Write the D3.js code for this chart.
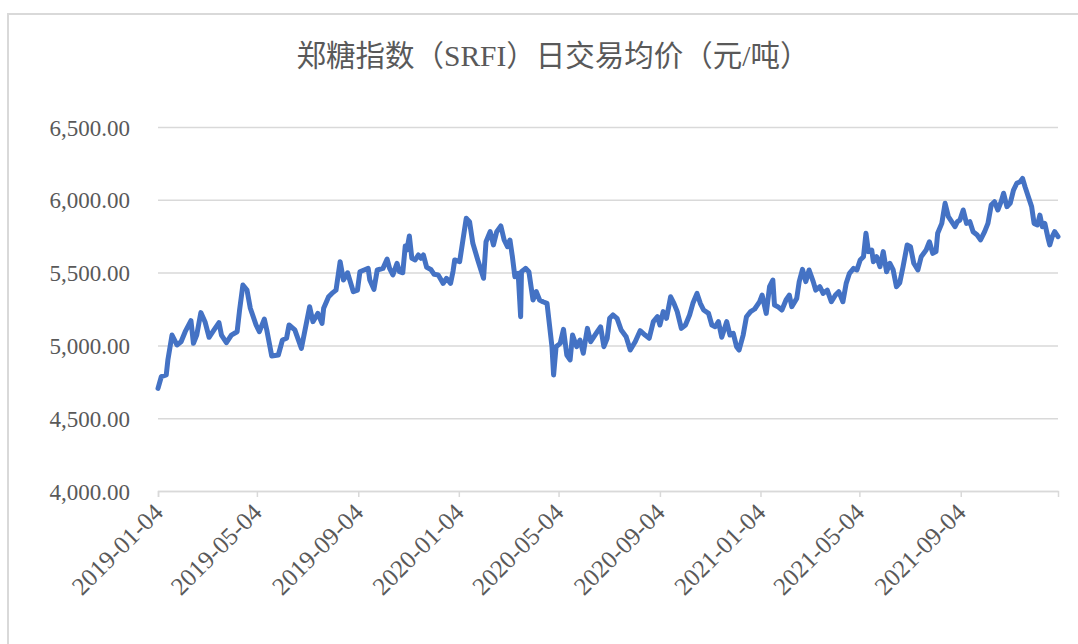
<!DOCTYPE html>
<html>
<head>
<meta charset="utf-8">
<script src="https://cdn.jsdelivr.net/npm/d3@7"></script>
<style>
  body { margin: 0; background: #fff; }
  text { fill: #595959; font-family: "Liberation Serif", "Noto Sans CJK SC", serif; }
</style>
</head>
<body>
<div id="chart"></div>
<script>
// 郑糖指数 daily average price

var dates = [
  "2019-01-04","2019-01-08","2019-01-14","2019-01-16","2019-01-21","2019-01-27","2019-02-01","2019-02-06",
  "2019-02-13","2019-02-16","2019-02-20","2019-02-25","2019-03-02","2019-03-07","2019-03-13","2019-03-19",
  "2019-03-22","2019-03-28","2019-04-03","2019-04-10","2019-04-13","2019-04-17","2019-04-22","2019-04-26",
  "2019-05-03","2019-05-07","2019-05-13","2019-05-16","2019-05-22","2019-05-30","2019-06-04","2019-06-09",
  "2019-06-12","2019-06-19","2019-06-27","2019-07-07","2019-07-11","2019-07-17","2019-07-22","2019-07-24",
  "2019-07-30","2019-08-03","2019-08-08","2019-08-13","2019-08-17","2019-08-22","2019-08-29","2019-09-03",
  "2019-09-06","2019-09-11","2019-09-16","2019-09-18","2019-09-23","2019-09-27","2019-10-04","2019-10-09",
  "2019-10-12","2019-10-16","2019-10-21","2019-10-24","2019-10-28","2019-10-31","2019-11-02","2019-11-05",
  "2019-11-08","2019-11-12","2019-11-16","2019-11-19","2019-11-22","2019-11-26","2019-12-01","2019-12-05",
  "2019-12-10","2019-12-12","2019-12-16","2019-12-20","2019-12-25","2019-12-28","2019-12-30","2020-01-05",
  "2020-01-09","2020-01-13","2020-01-17","2020-01-21","2020-01-27","2020-02-03","2020-02-06","2020-02-11",
  "2020-02-15","2020-02-19","2020-02-24","2020-02-28","2020-03-03","2020-03-06","2020-03-09","2020-03-12",
  "2020-03-16","2020-03-19","2020-03-20","2020-03-25","2020-03-29","2020-04-03","2020-04-07","2020-04-11",
  "2020-04-15","2020-04-20","2020-04-23","2020-04-26","2020-04-28","2020-05-01","2020-05-06","2020-05-10",
  "2020-05-14","2020-05-18","2020-05-21","2020-05-26","2020-05-30","2020-06-03","2020-06-08","2020-06-12",
  "2020-06-16","2020-06-20","2020-06-24","2020-06-28","2020-07-02","2020-07-05","2020-07-09","2020-07-14",
  "2020-07-19","2020-07-25","2020-07-30","2020-08-05","2020-08-11","2020-08-17","2020-08-22","2020-08-27",
  "2020-09-01","2020-09-04","2020-09-08","2020-09-12","2020-09-17","2020-09-21","2020-09-25","2020-09-30",
  "2020-10-05","2020-10-10","2020-10-14","2020-10-19","2020-10-23","2020-10-27","2020-11-02","2020-11-06",
  "2020-11-10","2020-11-14","2020-11-18","2020-11-24","2020-11-28","2020-12-02","2020-12-06","2020-12-09",
  "2020-12-14","2020-12-18","2020-12-23","2020-12-28","2021-01-03","2021-01-06","2021-01-11","2021-01-15",
  "2021-01-19","2021-01-21","2021-01-25","2021-01-30","2021-02-04","2021-02-08","2021-02-11","2021-02-17",
  "2021-02-20","2021-02-24","2021-02-28","2021-03-04","2021-03-09","2021-03-12","2021-03-17","2021-03-21",
  "2021-03-26","2021-03-31","2021-04-05","2021-04-09","2021-04-14","2021-04-18","2021-04-22","2021-04-27",
  "2021-05-01","2021-05-05","2021-05-09","2021-05-12","2021-05-15","2021-05-19","2021-05-21","2021-05-25",
  "2021-05-29","2021-06-02","2021-06-06","2021-06-10","2021-06-14","2021-06-18","2021-06-22","2021-06-26",
  "2021-07-01","2021-07-05","2021-07-09","2021-07-14","2021-07-18","2021-07-24","2021-07-28","2021-08-01",
  "2021-08-05","2021-08-07","2021-08-12","2021-08-16","2021-08-20","2021-08-24","2021-08-28","2021-08-31",
  "2021-09-03","2021-09-07","2021-09-11","2021-09-15","2021-09-19","2021-09-24","2021-09-28","2021-10-03",
  "2021-10-07","2021-10-11","2021-10-15","2021-10-19","2021-10-23","2021-10-26","2021-10-30","2021-11-03",
  "2021-11-07","2021-11-11","2021-11-15","2021-11-18","2021-11-21","2021-11-25","2021-11-29","2021-12-02",
  "2021-12-06","2021-12-09","2021-12-12","2021-12-15","2021-12-19","2021-12-21","2021-12-24","2021-12-27",
  "2021-12-31"
];

var prices = [
  4705,4785,4797,4900,5071,5003,5025,5094,
  5170,5014,5071,5225,5163,5056,5106,5156,
  5071,5019,5071,5094,5243,5415,5380,5255,
  5140,5094,5181,5106,4927,4934,5037,5049,
  5140,5106,4980,5266,5163,5220,5151,5255,
  5334,5357,5380,5575,5449,5499,5369,5380,
  5506,5518,5529,5449,5385,5518,5529,5593,
  5529,5484,5564,5506,5499,5683,5655,5751,
  5598,5587,5621,5598,5621,5536,5522,5488,
  5484,5465,5426,5461,5426,5510,5587,5575,
  5724,5873,5850,5701,5587,5461,5712,5781,
  5690,5781,5820,5724,5678,5724,5609,5472,
  5495,5197,5506,5529,5506,5312,5369,5312,
  5300,5289,5140,4991,4797,4991,5014,5110,
  4934,4900,5071,4991,5037,4946,5117,5025,
  5060,5094,5128,4991,5049,5186,5209,5186,
  5106,5060,4968,5025,5101,5071,5049,5163,
  5197,5140,5232,5186,5334,5289,5232,5117,
  5140,5209,5289,5357,5289,5243,5220,5140,
  5128,5163,5056,5163,5071,5083,4991,4968,
  5071,5197,5232,5250,5300,5346,5220,5403,
  5449,5277,5266,5243,5312,5346,5266,5323,
  5438,5522,5438,5518,5438,5380,5403,5357,
  5380,5300,5346,5369,5300,5426,5495,5529,
  5518,5587,5609,5770,5644,5655,5575,5609,
  5541,5644,5506,5564,5518,5403,5430,5541,
  5690,5678,5564,5518,5609,5655,5712,5632,
  5644,5770,5838,5976,5884,5850,5815,5850,
  5861,5930,5838,5850,5781,5758,5724,5781,
  5838,5964,5987,5930,5987,6045,5953,5976,
  6067,6113,6124,6147,6090,6021,5953,5838,
  5827,5895,5815,5838,5735,5690,5747,5781,
  5747
];

var xTicks = ["2019-01-04","2019-05-04","2019-09-04","2020-01-04","2020-05-04",
              "2020-09-04","2021-01-04","2021-05-04","2021-09-04"];
var yTicks = [4000, 4500, 5000, 5500, 6000, 6500];

var title = "郑糖指数（SRFI）日交易均价（元/吨）";

var W = 1078, H = 644;
var margin = {top: 127, left: 158, right: 20, bottom: 153};
var width = 1058 - margin.left, height = 491 - margin.top;

var parse = d3.timeParse("%Y-%m-%d");
var data = dates.map(function(d, i){ return {date: parse(d), value: prices[i]}; });

var svg = d3.select("#chart").append("svg")
  .attr("width", W)
  .attr("height", H);

// chart border (only top and left edges fall inside the picture)
svg.append("rect")
  .attr("x", 8).attr("y", 14)
  .attr("width", W + 20).attr("height", H + 20)
  .attr("fill", "none")
  .attr("stroke", "#d9d9d9")
  .attr("stroke-width", 2);

svg.append("text")
  .attr("x", 553)
  .attr("y", 66)
  .attr("text-anchor", "middle")
  .style("font-size", "29.5px")
  .text(title);

var g = svg.append("g")
  .attr("transform", "translate(" + margin.left + "," + margin.top + ")");

var x = d3.scaleTime()
  .domain(d3.extent(data, function(d){ return d.date; }))
  .range([0, width]);

var y = d3.scaleLinear()
  .domain([4000, 6500])
  .range([height, 0]);

// gridlines + y labels
var y_axis = d3.axisLeft(y)
  .tickValues(yTicks)
  .tickSize(-width)
  .tickFormat(d3.format(",.2f"));

g.append("g")
  .attr("class", "y axis")
  .call(y_axis)
  .call(function(s){
    s.select(".domain").remove();
    s.selectAll(".tick line").attr("stroke", "#d9d9d9").attr("stroke-width", 1.5);
    s.selectAll(".tick text")
      .attr("x", -28)
      .attr("dy", "0.35em")
      .style("font-size", "23px")
      .style("font-family", "Liberation Serif, serif")
      .attr("fill", "#595959");
  });

var x_axis = d3.axisBottom(x)
  .tickValues(xTicks.map(parse))
  .tickSize(6)
  .tickFormat(d3.timeFormat("%Y-%m-%d"));

g.append("g")
  .attr("class", "x axis")
  .attr("transform", "translate(0," + height + ")")
  .call(x_axis)
  .call(function(s){
    s.select(".domain").attr("stroke", "#d9d9d9").attr("stroke-width", 1.5);
    s.selectAll(".tick line").attr("stroke", "#d9d9d9").attr("stroke-width", 1.5);
    s.selectAll(".tick text")
      .attr("y", 0)
      .attr("dy", 0)
      .attr("text-anchor", "end")
      .attr("transform", "translate(6,23) rotate(-45)")
      .style("font-size", "25px")
      .style("font-family", "Liberation Serif, serif")
      .attr("fill", "#595959");
  });

var line = d3.line()
  .x(function(d){ return x(d.date); })
  .y(function(d){ return y(d.value); });

g.append("path")
  .datum(data)
  .attr("fill", "none")
  .attr("stroke", "#4472c4")
  .attr("stroke-width", 5)
  .attr("stroke-linejoin", "round")
  .attr("stroke-linecap", "round")
  .attr("d", line);
</script>
</body>
</html>
